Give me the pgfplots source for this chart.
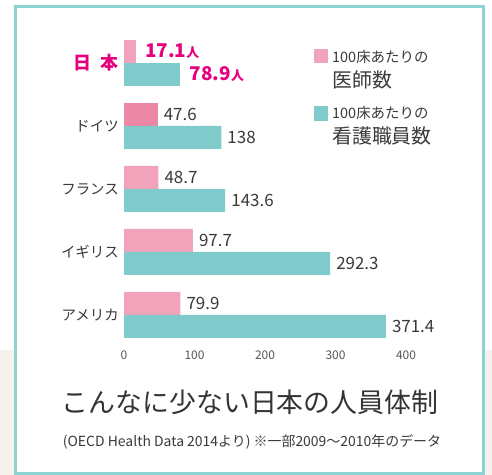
\documentclass[border=0pt]{standalone}
\usepackage{pgfplots}
\pgfplotsset{compat=1.18}
\usepackage{fontspec}
\setmainfont{Noto Sans CJK JP}
\definecolor{pinkbar}{HTML}{F1A3BB}
\definecolor{pinkdark}{HTML}{EC87A5}
\definecolor{tealbar}{HTML}{7FCACA}
\definecolor{frame}{HTML}{8DD3D3}
\definecolor{mag}{HTML}{E4007F}
\definecolor{txt}{HTML}{3A3A3A}
\definecolor{beige}{HTML}{F6F3EE}
\newcommand{\fs}[1]{\fontsize{#1}{#1}\selectfont}
\begin{document}
\begin{tikzpicture}[x=1bp,y=1bp]
\useasboundingbox (0,0) rectangle (492,475);
\fill[beige] (0,0) rectangle (492,125);
\fill[white] (15,1.5) rectangle (483.5,468.5);
\draw[frame, line width=3bp] (15,1.5) rectangle (483.5,468.5);
\begin{axis}[
  at={(124bp,128.5bp)}, anchor=south west,
  scale only axis, width=282bp, height=315bp,
  xmin=0, xmax=400, ymin=-0.5, ymax=4.5,
  axis line style={draw=none},
  major tick length=0pt,
  xtick={0,100,200,300,400},
  ytick={0,1,2,3,4},
  yticklabels={アメリカ,イギリス,フランス,ドイツ,{\fs{18}\bfseries\color{mag}日\hspace{9bp}本}},
  yticklabel style={font=\fs{14.5}, text=txt, inner sep=0pt, xshift=-5bp},
  xticklabel style={font=\fs{12}, text=txt!85, inner sep=0pt, yshift=-4bp},
  /pgf/number format/assume math mode=true,
  clip=false,
  xbar, bar width=23bp,
  point meta=explicit symbolic,
  nodes near coords,
  every node near coord/.append style={anchor=west, inner sep=0pt, xshift=6bp, font=\fs{17}, text=txt},
]
% doctors per 100 beds
\addplot[xbar, bar shift=11.5bp, fill=pinkbar, draw=none] coordinates {(48.7,2) [48.7] (97.7,1) [97.7] (79.9,0) [79.9]};
\addplot[xbar, bar shift=11.5bp, fill=pinkdark, draw=none] coordinates {(47.6,3) [47.6]};
\addplot[xbar, bar shift=11.5bp, fill=pinkbar, draw=none,
  every node near coord/.append style={xshift=3bp, text=mag, font=\fs{19}\bfseries}] coordinates {(17.1,4) [{17.1\fs{13}人}]};
% nurses per 100 beds
\addplot[xbar, bar shift=-11.5bp, fill=tealbar, draw=none] coordinates {(138,3) [138] (143.6,2) [143.6] (292.3,1) [292.3] (371.4,0) [371.4]};
\addplot[xbar, bar shift=-11.5bp, fill=tealbar, draw=none,
  every node near coord/.append style={xshift=4bp, text=mag, font=\fs{19}\bfseries}] coordinates {(78.9,4) [{78.9\fs{13}人}]};
\end{axis}
% legend
\fill[pinkbar] (313.5,412) rectangle (328,426);
\node[anchor=west, inner sep=0pt, font=\fs{14.5}, text=txt] at (332,418) {100床あたりの};
\node[anchor=west, inner sep=0pt, font=\fs{20}, text=txt] at (332,395) {医師数};
\fill[tealbar] (313.5,354) rectangle (328,369);
\node[anchor=west, inner sep=0pt, font=\fs{14.5}, text=txt] at (332,362) {100床あたりの};
\node[anchor=west, inner sep=0pt, font=\fs{20}, text=txt] at (332,339) {看護職員数};
% titles
\node[font=\fs{27}, text=txt!90!black] at (250,73) {こんなに少ない日本の人員体制};
\node[font=\fs{14}, text=txt] at (252,33) {(OECD Health Data 2014より) ※一部2009～2010年のデータ};
\end{tikzpicture}
\end{document}
